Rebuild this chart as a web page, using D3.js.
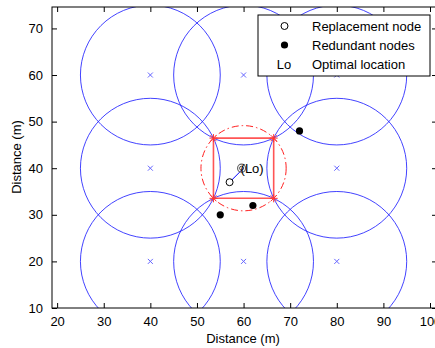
<!DOCTYPE html>
<html>
<head>
<meta charset="utf-8">
<script src="https://cdn.jsdelivr.net/npm/d3@7"></script>
<style>
  body { margin: 0; background: #fff; }
  text { font-family: "Liberation Sans", Arial, sans-serif; }
</style>
</head>
<body>
<div id="canvas"></div>
<script>
// sensor centres (blue x) and their sensing range
var sensorX = [40, 60, 80, 40, 80, 40, 60, 80];
var sensorY = [20, 20, 20, 40, 40, 60, 60, 60];
var sensRange = 15;

// corners of the uncovered square (red stars)
var cornerX = [53.54, 66.46, 66.46, 53.54];
var cornerY = [46.46, 46.46, 33.54, 33.54];

var redundantX = [55, 62, 72];
var redundantY = [30, 32, 48];

var replacement = [57, 37];
var optimal = [60, 40];
var holeRadius = 9.14;

var xTicks = [20, 30, 40, 50, 60, 70, 80, 90, 100];
var yTicks = [10, 20, 30, 40, 50, 60, 70];
var legendLabels = ["Replacement node", "Redundant nodes", "Optimal location"];

const W = 435, H = 348;
const box = {left: 52, right: 437, top: 7, bottom: 308};

const svg = d3.select("#canvas").append("svg")
  .attr("width", W).attr("height", H);

const x = d3.scaleLinear().domain([18.9, 101.5]).range([box.left, box.right]);
const y = d3.scaleLinear().domain([10, 74.6]).range([box.bottom, box.top]);
const k = x(1) - x(0); // px per unit

svg.append("defs").append("clipPath").attr("id", "plotclip")
  .append("rect").attr("x", box.left).attr("y", box.top)
  .attr("width", box.right - box.left).attr("height", box.bottom - box.top);

const plot = svg.append("g").attr("clip-path", "url(#plotclip)");

// sensing circles
var sensors = sensorX.map(function(d, i) { return {x: d, y: sensorY[i]}; });
plot.selectAll("circle.range")
  .data(sensors)
  .enter()
  .append("circle")
    .attr("class", "range")
    .attr("cx", function(d) { return x(d.x); })
    .attr("cy", function(d) { return y(d.y); })
    .attr("r", sensRange * k)
    .attr("fill", "none")
    .attr("stroke", "#2222ff")
    .attr("stroke-opacity", 0.85)
    .attr("stroke-width", 1);

// x markers at centres
plot.selectAll("path.cross")
  .data(sensors)
  .enter()
  .append("path")
    .attr("class", "cross")
    .attr("transform", function(d) { return "translate(" + x(d.x) + "," + y(d.y) + ")"; })
    .attr("d", "M-2.5,-2.5L2.5,2.5M-2.5,2.5L2.5,-2.5")
    .attr("stroke", "#6666ff")
    .attr("stroke-width", 1);

// hole circle (dash-dot)
plot.append("circle")
  .attr("cx", x(optimal[0])).attr("cy", y(optimal[1]))
  .attr("r", holeRadius * k)
  .attr("fill", "none")
  .attr("stroke", "#ff2020")
  .attr("stroke-width", 1)
  .attr("stroke-dasharray", "7,3,1.5,3");

// square
var corners = cornerX.map(function(d, i) { return [x(d), y(cornerY[i])]; });
plot.append("path")
  .attr("d", d3.line()(corners.concat([corners[0]])))
  .attr("fill", "none")
  .attr("stroke", "#ff5555")
  .attr("stroke-width", 1.6);

// star markers on corners
plot.selectAll("path.star")
  .data(corners)
  .enter()
  .append("path")
    .attr("class", "star")
    .attr("transform", function(d) { return "translate(" + d[0] + "," + d[1] + ")"; })
    .attr("d", "M-4,0L4,0M0,-4L0,4M-3,-3L3,3M-3,3L3,-3")
    .attr("stroke", "#ff3333")
    .attr("stroke-width", 1);

// moving path replacement -> optimal
plot.append("line")
  .attr("x1", x(replacement[0])).attr("y1", y(replacement[1]))
  .attr("x2", x(optimal[0])).attr("y2", y(optimal[1]))
  .attr("stroke", "#0000ff").attr("stroke-width", 1);

plot.append("circle")
  .attr("cx", x(replacement[0])).attr("cy", y(replacement[1]))
  .attr("r", 3.5).attr("fill", "#fff")
  .attr("stroke", "#000").attr("stroke-width", 1);

// optimal location marker + label
plot.append("circle")
  .attr("cx", x(optimal[0]) - 2).attr("cy", y(optimal[1]))
  .attr("r", 4).attr("fill", "none")
  .attr("stroke", "#666").attr("stroke-width", 1.2);
plot.append("circle")
  .attr("cx", x(optimal[0]) - 2).attr("cy", y(optimal[1]))
  .attr("r", 2).attr("fill", "none")
  .attr("stroke", "#444").attr("stroke-width", 1);
plot.append("text")
  .attr("x", x(optimal[0]) - 3).attr("y", y(optimal[1]) + 5)
  .attr("font-size", 13).attr("fill", "#000")
  .text("(Lo)");

// redundant nodes
plot.selectAll("circle.red")
  .data(redundantX)
  .enter()
  .append("circle")
    .attr("class", "red")
    .attr("cx", function(d) { return x(d); })
    .attr("cy", function(d, i) { return y(redundantY[i]); })
    .attr("r", 3.6)
    .attr("fill", "#000");

// axes box with inward ticks
const axes = svg.append("g");
axes.append("rect")
  .attr("x", box.left).attr("y", box.top)
  .attr("width", box.right - box.left).attr("height", box.bottom - box.top)
  .attr("fill", "none").attr("stroke", "#000").attr("stroke-width", 1);

axes.append("g")
  .attr("transform", "translate(0," + box.bottom + ")")
  .call(d3.axisBottom(x).tickValues(xTicks).tickSizeInner(-5).tickSizeOuter(0).tickPadding(9))
  .call(function(g) { g.select(".domain").remove(); })
  .selectAll("text").attr("font-size", 13).attr("font-family", "Liberation Sans, Arial");

axes.append("g")
  .attr("transform", "translate(0," + box.top + ")")
  .call(d3.axisTop(x).tickValues(xTicks).tickSizeInner(-5).tickSizeOuter(0).tickFormat(""))
  .call(function(g) { g.select(".domain").remove(); });

axes.append("g")
  .attr("transform", "translate(" + box.left + ",0)")
  .call(d3.axisLeft(y).tickValues(yTicks).tickSizeInner(-5).tickSizeOuter(0).tickPadding(9))
  .call(function(g) { g.select(".domain").remove(); })
  .selectAll("text").attr("font-size", 13).attr("font-family", "Liberation Sans, Arial");

axes.append("g")
  .attr("transform", "translate(" + box.right + ",0)")
  .call(d3.axisRight(y).tickValues(yTicks).tickSizeInner(-5).tickSizeOuter(0).tickFormat(""))
  .call(function(g) { g.select(".domain").remove(); });

// axis labels
svg.append("text")
  .attr("x", 243).attr("y", 343)
  .attr("text-anchor", "middle").attr("font-size", 13)
  .text("Distance (m)");

svg.append("text")
  .attr("transform", "translate(21,157) rotate(-90)")
  .attr("text-anchor", "middle").attr("font-size", 13)
  .text("Distance (m)");

// legend
const lg = svg.append("g");
lg.append("rect")
  .attr("x", 258).attr("y", 15).attr("width", 172).attr("height", 61)
  .attr("fill", "#fff").attr("stroke", "#000").attr("stroke-width", 1);
var rowY = [26, 45, 63.5];
lg.append("circle").attr("cx", 284.5).attr("cy", rowY[0]).attr("r", 3.5)
  .attr("fill", "#fff").attr("stroke", "#000");
lg.append("circle").attr("cx", 284.5).attr("cy", rowY[1]).attr("r", 3.6)
  .attr("fill", "#000");
lg.append("text").attr("x", 284).attr("y", rowY[2] + 5)
  .attr("text-anchor", "middle").attr("font-size", 13).text("Lo");
lg.selectAll("text.lab")
  .data(legendLabels)
  .enter()
  .append("text")
    .attr("class", "lab")
    .attr("x", 312)
    .attr("y", function(d, i) { return rowY[i] + 5; })
    .attr("font-size", 13)
    .text(function(d) { return d; });
</script>
</body>
</html>
